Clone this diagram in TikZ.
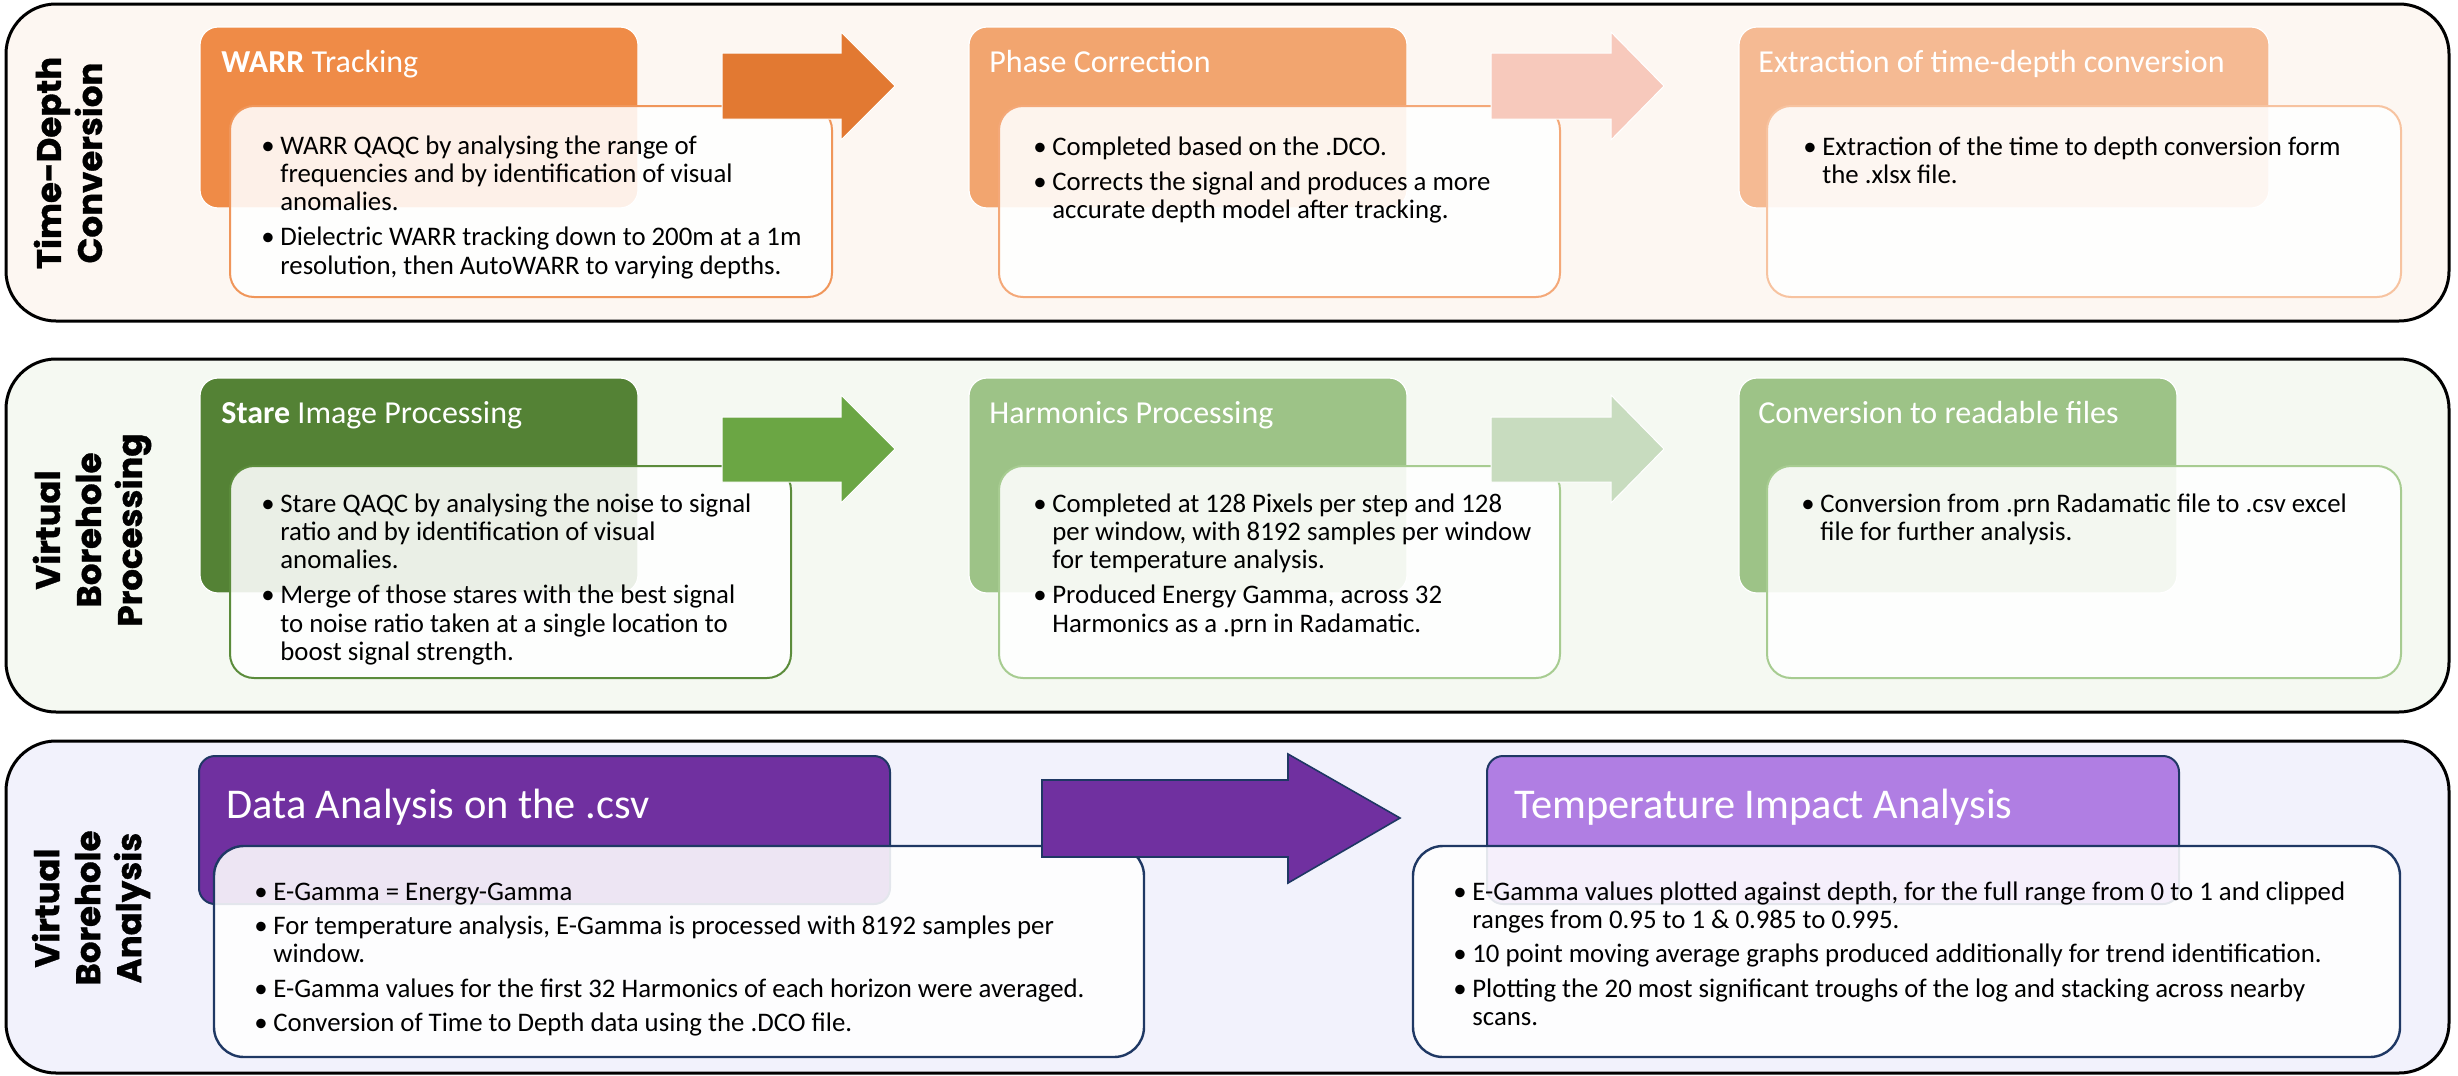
\documentclass[tikz,border=0pt]{standalone}
\usepackage{fontspec}
\setmainfont{Carlito}
\newfontfamily\titlefont{Poppins}[BoldFeatures={FakeBold=1}]
\definecolor{pbga}{HTML}{FDF7F2}
\definecolor{pbgb}{HTML}{F5F9F2}
\definecolor{pbgc}{HTML}{F2F2FC}
\definecolor{ora}{HTML}{EF8B47}
\definecolor{oraarrow}{HTML}{E27932}
\definecolor{orb}{HTML}{F2A56F}
\definecolor{orbarrow}{HTML}{F7C9BC}
\definecolor{orc}{HTML}{F5BA93}
\definecolor{oraline}{HTML}{F0965A}
\definecolor{orbline}{HTML}{F4A878}
\definecolor{orcline}{HTML}{F7C3A0}
\definecolor{gra}{HTML}{548235}
\definecolor{graarrow}{HTML}{6BA644}
\definecolor{grb}{HTML}{9DC387}
\definecolor{grbarrow}{HTML}{C8DCBF}
\definecolor{graline}{HTML}{5B8C3B}
\definecolor{grbline}{HTML}{A7CC91}
\definecolor{pua}{HTML}{7030A0}
\definecolor{pub}{HTML}{B07EE3}
\definecolor{navy}{HTML}{1F3864}
\newcommand{\bl}[1]{\makebox[9.5pt][l]{\textbullet}#1}
\newcommand{\cl}[1]{\hspace*{9.5pt}#1}
\tikzset{
  panel/.style={draw=black, line width=1.5pt, rounded corners=25pt},
  hdr/.style={draw=white, line width=0.6pt, rounded corners=9pt},
  hdrp/.style={draw=navy, line width=1pt, rounded corners=8pt},
  bodybox/.style={fill=white, fill opacity=0.88, line width=1pt, rounded corners=12pt},
  blockarrow/.style={draw=white, line width=0.5pt},
  hdrtext/.style={anchor=base west, inner sep=0pt, text=white, font=\fontsize{16}{19}\selectfont},
  hdrbig/.style={anchor=base west, inner sep=0pt, text=white, font=\fontsize{21.2}{25}\selectfont},
  bodytext/.style={anchor=base west, inner sep=0pt, font=\fontsize{13.4}{14.2}\selectfont},
  bodysmall/.style={anchor=base west, inner sep=0pt, font=\fontsize{13.4}{14}\selectfont},
  paneltitle/.style={rotate=90, inner sep=0pt, align=center, font=\titlefont\bfseries\fontsize{17}{20.5}\selectfont}
}
\begin{document}
\begin{tikzpicture}[x=0.5pt, y=-0.5pt]
\useasboundingbox (0,0) rectangle (2458,1076);
\fill[white] (0,0) rectangle (2458,1076);

% ---------- Panel 1 ----------
\draw[panel, fill=pbga] (6,4) rectangle (2449,321);
\node[paneltitle] (t1) at (68,163) {Time-Depth\\Conversion};
\draw[hdr, fill=ora] (200,27) rectangle (638,208);
\draw[hdr, fill=orb] (969,27) rectangle (1407,208);
\draw[hdr, fill=orc] (1739,27) rectangle (2269,208);
\node[hdrtext] (h11) at (221,72) {{\bfseries WARR} Tracking};
\node[hdrtext] (h12) at (989,72) {Phase Correction};
\node[hdrtext] (h13) at (1758,72) {Extraction of time-depth conversion};
\draw[bodybox, draw=oraline] (230,106) rectangle (832,297);
\draw[bodybox, draw=orbline] (999,106) rectangle (1560,297);
\draw[bodybox, draw=orcline] (1767,106) rectangle (2401,297);
\fill[blockarrow, fill=oraarrow] (722,53) -- (841,53) -- (841,32) -- (895,86) -- (841,140) -- (841,119) -- (722,119) -- cycle;
\fill[blockarrow, fill=orbarrow] (1491,53) -- (1611,53) -- (1611,32) -- (1664,86) -- (1611,140) -- (1611,119) -- (1491,119) -- cycle;
\node[bodytext] (b11) at (261,154) {\begin{tabular}[t]{@{}l@{}}
\bl{WARR QAQC by analysing the range of}\\
\cl{frequencies and by identification of visual}\\
\cl{anomalies.}\\[3.3pt]
\bl{Dielectric WARR tracking down to 200m at a 1m}\\
\cl{resolution, then AutoWARR to varying depths.}
\end{tabular}};
\node[bodytext] (b12) at (1033,155) {\begin{tabular}[t]{@{}l@{}}
\bl{Completed based on the .DCO.}\\[3.3pt]
\bl{Corrects the signal and produces a more}\\
\cl{accurate depth model after tracking.}
\end{tabular}};
\node[bodytext] (b13) at (1803,155) {\begin{tabular}[t]{@{}l@{}}
\bl{Extraction of the time to depth conversion form}\\
\cl{the .xlsx file.}
\end{tabular}};

% ---------- Panel 2 ----------
\draw[panel, fill=pbgb] (6,359) rectangle (2449,712);
\node[paneltitle] (t2) at (92,530) {Virtual\\Borehole\\Processing};
\draw[hdr, fill=gra] (200,378) rectangle (638,593);
\draw[hdr, fill=grb] (969,378) rectangle (1407,593);
\draw[hdr, fill=grb] (1739,378) rectangle (2177,593);
\node[hdrtext] (h21) at (221,423) {{\bfseries Stare} Image Processing};
\node[hdrtext] (h22) at (989,423) {Harmonics Processing};
\node[hdrtext] (h23) at (1758,423) {Conversion to readable files};
\draw[bodybox, draw=graline] (230,466) rectangle (791,678);
\draw[bodybox, draw=grbline] (999,466) rectangle (1560,678);
\draw[bodybox, draw=grbline] (1767,466) rectangle (2401,678);
\fill[blockarrow, fill=graarrow] (722,417) -- (841,417) -- (841,395) -- (895,449) -- (841,503) -- (841,482) -- (722,482) -- cycle;
\fill[blockarrow, fill=grbarrow] (1491,417) -- (1611,417) -- (1611,395) -- (1664,449) -- (1611,503) -- (1611,482) -- (1491,482) -- cycle;
\node[bodytext] (b21) at (261,512) {\begin{tabular}[t]{@{}l@{}}
\bl{Stare QAQC by analysing the noise to signal}\\
\cl{ratio and by identification of visual}\\
\cl{anomalies.}\\[3.3pt]
\bl{Merge of those stares with the best signal}\\
\cl{to noise ratio taken at a single location to}\\
\cl{boost signal strength.}
\end{tabular}};
\node[bodytext] (b22) at (1033,512) {\begin{tabular}[t]{@{}l@{}}
\bl{Completed at 128 Pixels per step and 128}\\
\cl{per window, with 8192 samples per window}\\
\cl{for temperature analysis.}\\[3.3pt]
\bl{Produced Energy Gamma, across 32}\\
\cl{Harmonics as a .prn in Radamatic.}
\end{tabular}};
\node[bodytext] (b23) at (1801,512) {\begin{tabular}[t]{@{}l@{}}
\bl{Conversion from .prn Radamatic file to .csv excel}\\
\cl{file for further analysis.}
\end{tabular}};

% ---------- Panel 3 ----------
\draw[panel, fill=pbgc] (6,741) rectangle (2449,1073);
\node[paneltitle] (t3) at (91,908) {Virtual\\Borehole\\Analysis};
\draw[hdrp, fill=pua] (199,756) rectangle (890,904);
\draw[hdrp, fill=pub] (1487,756) rectangle (2179,904);
\node[hdrbig] (h31) at (226,818) {Data Analysis on the .csv};
\node[hdrbig] (h32) at (1514,818) {Temperature Impact Analysis};
\draw[bodybox, draw=navy, line width=1.2pt, rounded corners=15pt] (214,846) rectangle (1144,1057);
\draw[bodybox, draw=navy, line width=1.2pt, rounded corners=15pt] (1413,846) rectangle (2400,1057);
\draw[fill=pua, draw=navy, line width=0.8pt] (1042,780) -- (1288,780) -- (1288,754) -- (1400,818) -- (1288,883) -- (1288,857) -- (1042,857) -- cycle;
\node[bodysmall] (b31) at (254,900) {\begin{tabular}[t]{@{}l@{}}
\bl{E-Gamma = Energy-Gamma}\\[3.3pt]
\bl{For temperature analysis, E-Gamma is processed with 8192 samples per}\\
\cl{window.}\\[3.3pt]
\bl{E-Gamma values for the first 32 Harmonics of each horizon were averaged.}\\[3.3pt]
\bl{Conversion of Time to Depth data using the .DCO file.}
\end{tabular}};
\node[bodysmall] (b32) at (1453,900) {\begin{tabular}[t]{@{}l@{}}
\bl{E-Gamma values plotted against depth, for the full range from 0 to 1 and clipped}\\
\cl{ranges from 0.95 to 1 \& 0.985 to 0.995.}\\[3.3pt]
\bl{10 point moving average graphs produced additionally for trend identification.}\\[3.3pt]
\bl{Plotting the 20 most significant troughs of the log and stacking across nearby}\\
\cl{scans.}
\end{tabular}};
\end{tikzpicture}
\end{document}
